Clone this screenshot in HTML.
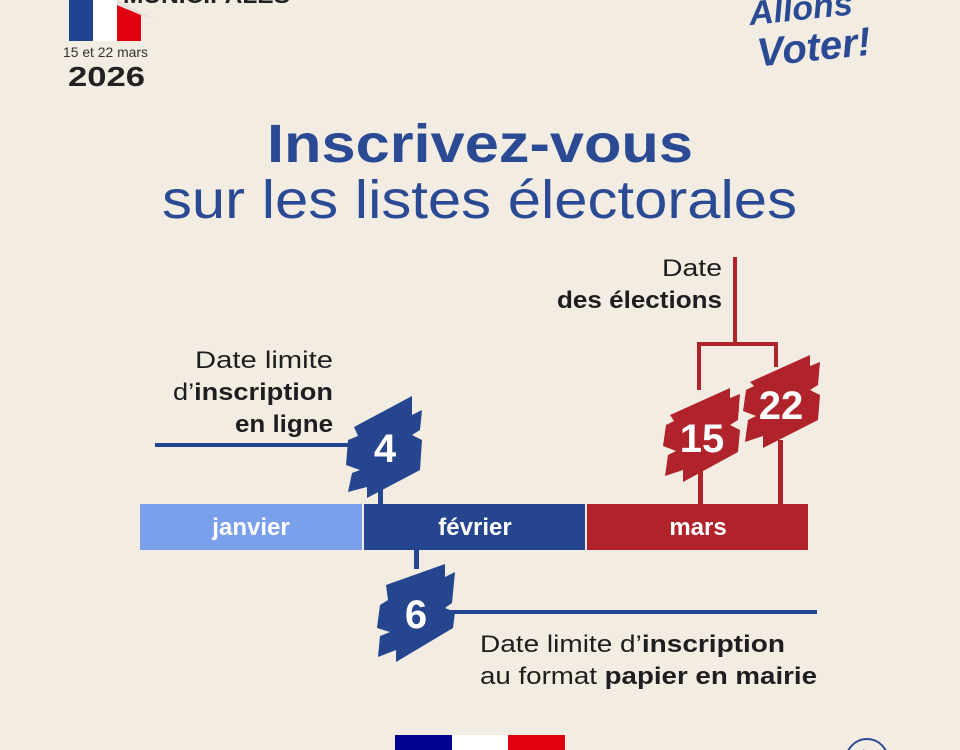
<!DOCTYPE html>
<html><head><meta charset="utf-8"><style>
html,body{margin:0;padding:0;background:#f2ece3;}
svg{display:block;}
text{font-family:"Liberation Sans","DejaVu Sans",sans-serif;}
</style></head><body>
<svg width="960" height="750" viewBox="0 0 960 750" xmlns="http://www.w3.org/2000/svg">
<rect width="960" height="750" fill="#f2ece3"/>
<!-- flag -->
<rect x="69" y="0" width="24" height="41" fill="#21428f"/>
<rect x="93" y="0" width="24" height="41" fill="#ffffff"/>
<polygon points="117,5 141,15 141,41 117,41" fill="#e1000f"/>
<polygon points="117,0 160,22 141,15 117,5" fill="#e6e0d8"/>
<text x="123" y="3" font-size="22" font-weight="bold" fill="#222" textLength="167" lengthAdjust="spacingAndGlyphs">MUNICIPALES</text>
<text x="63" y="57" font-size="14" fill="#333" textLength="85" lengthAdjust="spacingAndGlyphs">15 et 22 mars</text>
<text x="68" y="86" font-size="28" font-weight="bold" fill="#222" textLength="77" lengthAdjust="spacingAndGlyphs">2026</text>
<!-- Allons voter -->
<text x="752" y="20" font-size="34" font-style="italic" font-weight="bold" fill="#2a4a94" transform="rotate(-6 800 40)">Allons</text>
<text x="756" y="62" font-size="40" font-style="italic" font-weight="bold" fill="#2a4a94" transform="rotate(-6 800 40)">Voter!</text>
<!-- title -->
<text x="267" y="162" font-size="54" font-weight="bold" fill="#2a4a94" textLength="426" lengthAdjust="spacingAndGlyphs">Inscrivez-vous</text>
<text x="162" y="218" font-size="54" fill="#2a4a94" textLength="635" lengthAdjust="spacingAndGlyphs">sur les listes électorales</text>
<!-- labels -->
<g font-size="24" fill="#1e1e1e">
<text x="195" y="368" textLength="138" lengthAdjust="spacingAndGlyphs">Date limite</text>
<text x="173" y="400" textLength="160" lengthAdjust="spacingAndGlyphs">d’<tspan font-weight="bold">inscription</tspan></text>
<text x="235" y="432" font-weight="bold" textLength="98" lengthAdjust="spacingAndGlyphs">en ligne</text>
<text x="662" y="276" textLength="60" lengthAdjust="spacingAndGlyphs">Date</text>
<text x="557" y="308" font-weight="bold" textLength="165" lengthAdjust="spacingAndGlyphs">des élections</text>
<text x="480" y="652" textLength="305" lengthAdjust="spacingAndGlyphs">Date limite d’<tspan font-weight="bold">inscription</tspan></text>
<text x="480" y="684" textLength="337" lengthAdjust="spacingAndGlyphs">au format <tspan font-weight="bold">papier en mairie</tspan></text>
</g>
<!-- bar -->
<rect x="140" y="504" width="222" height="46" fill="#7aa0ec"/>
<rect x="364" y="504" width="221" height="46" fill="#25468e"/>
<rect x="587" y="504" width="221" height="46" fill="#b0232a"/>
<g font-size="24" font-weight="bold" fill="#fff" text-anchor="middle">
<text x="251" y="535">janvier</text>
<text x="475" y="535">février</text>
<text x="698" y="535">mars</text>
</g>
<!-- blue lines -->
<rect x="155" y="443" width="200" height="4" fill="#25468e"/>
<rect x="378" y="480" width="5" height="25" fill="#25468e"/>
<rect x="414" y="549" width="5" height="20" fill="#25468e"/>
<rect x="450" y="610" width="367" height="4" fill="#25468e"/>
<!-- badge 4 -->
<polygon points="354,427 412,396 412,415 422,410 420,430 412,435 422,440 420,470 367,498 367,487 348,492 352,473 360,470 346,465 348,440 358,436" fill="#25468e"/>
<text x="385" y="462" font-size="40" font-weight="bold" fill="#fff" text-anchor="middle">4</text>
<!-- badge 6 -->
<polygon points="386,585 445,564 445,577 455,572 452,603 445,608 455,612 453,628 396,662 396,650 378,657 380,636 390,632 377,628 380,605 388,600" fill="#25468e"/>
<text x="416" y="628" font-size="40" font-weight="bold" fill="#fff" text-anchor="middle">6</text>
<!-- red -->
<g fill="#b0232a">
<rect x="733" y="257" width="4" height="88"/>
<rect x="697" y="342" width="80" height="4"/>
<rect x="697" y="342" width="4" height="48"/>
<rect x="774" y="342" width="4" height="25"/>
<rect x="698" y="470" width="5" height="35"/>
<rect x="778" y="440" width="5" height="65"/>
<polygon points="670,415 730,388 730,398 740,394 738,420 730,425 740,430 738,452 683,482 683,470 665,476 668,455 676,451 663,446 666,425 674,421"/>
<polygon points="750,382 810,355 810,366 820,362 818,385 810,390 820,395 818,420 763,448 763,436 745,442 748,420 756,416 743,411 746,390 754,386"/>
</g>
<g font-size="40" font-weight="bold" fill="#fff" text-anchor="middle">
<text x="702" y="452">15</text>
<text x="781" y="419">22</text>
</g>
<!-- bottom logo -->
<rect x="395" y="735" width="57" height="15" fill="#000091"/>
<rect x="452" y="735" width="56" height="15" fill="#ffffff"/>
<rect x="508" y="735" width="57" height="15" fill="#e1000f"/>
<circle cx="867" cy="760" r="21" fill="none" stroke="#2a4a94" stroke-width="2"/>
<polyline points="863,750 869,756" fill="none" stroke="#2a4a94" stroke-width="2"/>
</svg>
</body></html>
